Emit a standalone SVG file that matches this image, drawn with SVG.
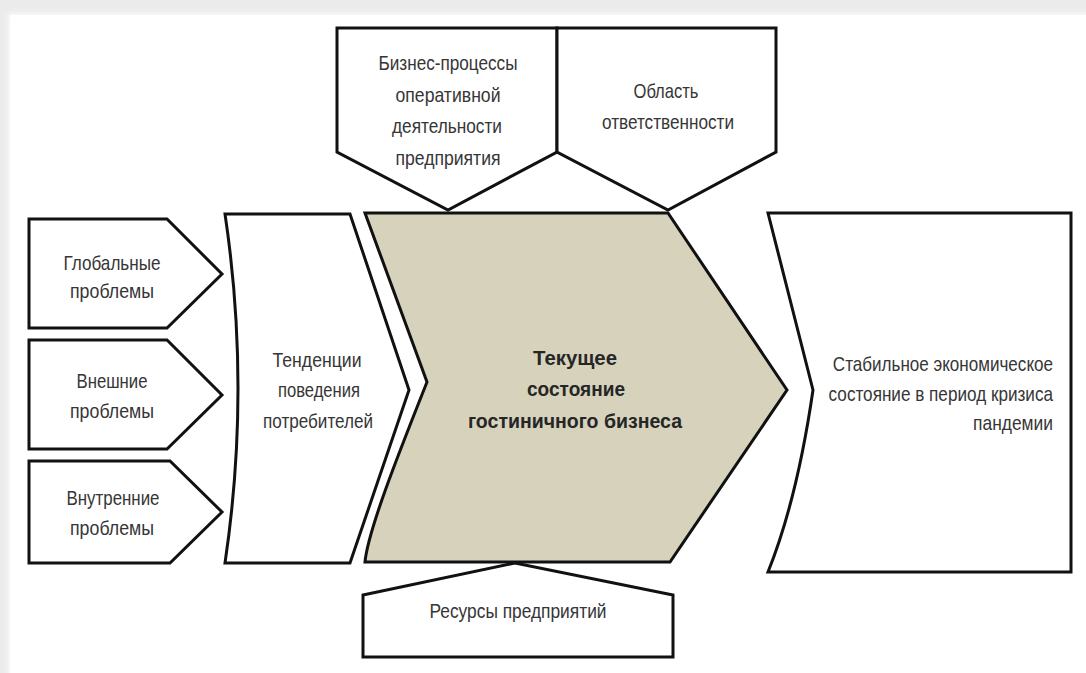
<svg xmlns="http://www.w3.org/2000/svg" width="1086" height="673" viewBox="0 0 1086 673">
  <defs>
    <style>
      .shape { fill: #ffffff; stroke: #111111; stroke-width: 3; stroke-linejoin: miter; }
      .core { fill: #d6d2bc; stroke: #111111; stroke-width: 3; stroke-linejoin: miter; }
      .lbl { font-family: "Liberation Sans", "DejaVu Sans Condensed", sans-serif; font-size: 21px; fill: #363636; text-anchor: middle; }
      .bold { font-weight: bold; fill: #262626; }
      .right { text-anchor: end; }
    </style>
    <filter id="soft" x="-5%" y="-5%" width="110%" height="110%">
      <feGaussianBlur stdDeviation="3"/>
    </filter>
  </defs>

  <!-- page backdrop with a soft edge on the top and left -->
  <rect x="0" y="0" width="1086" height="673" fill="#ebebeb"/>
  <rect x="9" y="14" width="1090" height="670" fill="#ffffff" filter="url(#soft)"/>
  <rect x="10" y="15" width="1086" height="673" fill="#ffffff"/>

  <g id="connectors"></g>

  <!-- upper inputs -->
  <g id="node-business-processes">
    <path class="shape" d="M337,28 H557 V152 L448,210 L337,152 Z"/>
    <text class="lbl" x="448" y="70" textLength="139" lengthAdjust="spacingAndGlyphs">Бизнес-процессы</text>
    <text class="lbl" x="448" y="102" textLength="105" lengthAdjust="spacingAndGlyphs">оперативной</text>
    <text class="lbl" x="447" y="133" textLength="110" lengthAdjust="spacingAndGlyphs">деятельности</text>
    <text class="lbl" x="448" y="165" textLength="105" lengthAdjust="spacingAndGlyphs">предприятия</text>
  </g>
  <g id="node-responsibility">
    <path class="shape" d="M557,28 H776 V152 L668,210 L557,152 Z"/>
    <text class="lbl" x="666" y="98" textLength="65" lengthAdjust="spacingAndGlyphs">Область</text>
    <text class="lbl" x="668" y="129" textLength="132" lengthAdjust="spacingAndGlyphs">ответственности</text>
  </g>

  <!-- problem inputs on the left -->
  <g id="node-global">
    <path class="shape" d="M29,219 H167 L222,274 L167,328 H29 Z"/>
    <text class="lbl" x="112" y="270" textLength="97" lengthAdjust="spacingAndGlyphs">Глобальные</text>
    <text class="lbl" x="112" y="298" textLength="84" lengthAdjust="spacingAndGlyphs">проблемы</text>
  </g>
  <g id="node-external">
    <path class="shape" d="M29,340 H167 L222,395 L167,449 H29 Z"/>
    <text class="lbl" x="112" y="388" textLength="71" lengthAdjust="spacingAndGlyphs">Внешние</text>
    <text class="lbl" x="112" y="418" textLength="84" lengthAdjust="spacingAndGlyphs">проблемы</text>
  </g>
  <g id="node-internal">
    <path class="shape" d="M29,461 H170 L222,512 L170,563 H29 Z"/>
    <text class="lbl" x="113" y="505" textLength="93" lengthAdjust="spacingAndGlyphs">Внутренние</text>
    <text class="lbl" x="112" y="535" textLength="84" lengthAdjust="spacingAndGlyphs">проблемы</text>
  </g>

  <!-- consumer trends -->
  <g id="node-trends">
    <path class="shape" d="M225,214 H350 L409,390 L350,563 H225 Q251,388 225,214 Z"/>
    <text class="lbl" x="317" y="367" textLength="89" lengthAdjust="spacingAndGlyphs">Тенденции</text>
    <text class="lbl" x="319" y="397" textLength="82" lengthAdjust="spacingAndGlyphs">поведения</text>
    <text class="lbl" x="318" y="428" textLength="110" lengthAdjust="spacingAndGlyphs">потребителей</text>
  </g>

  <!-- current state, central chevron -->
  <g id="node-current-state">
    <path class="core" d="M365,213 H668 L787,390 L670,562 H365 C368,530 400,450 427,382 Z"/>
    <text class="lbl bold" x="575" y="365" textLength="84" lengthAdjust="spacingAndGlyphs">Текущее</text>
    <text class="lbl bold" x="576" y="396" textLength="98" lengthAdjust="spacingAndGlyphs">состояние</text>
    <text class="lbl bold" x="575" y="428" textLength="214" lengthAdjust="spacingAndGlyphs">гостиничного бизнеса</text>
  </g>

  <!-- resources below -->
  <g id="node-resources">
    <path class="shape" d="M363,657 V595 L515,563 L673,595 V657 Z"/>
    <text class="lbl" x="518" y="618" textLength="177" lengthAdjust="spacingAndGlyphs">Ресурсы предприятий</text>
  </g>

  <!-- target state; right-aligned text block narrowed horizontally -->
  <g id="node-target-state">
    <path class="shape" d="M768,213 H1071 V572 H768 Q797,500 813,390 Z"/>
    <g transform="translate(1053,0) scale(0.85,1)">
      <text class="lbl right" x="0" y="371" textLength="259" lengthAdjust="spacingAndGlyphs">Стабильное экономическое</text>
      <text class="lbl right" x="0" y="401" textLength="264" lengthAdjust="spacingAndGlyphs">состояние в период кризиса</text>
      <text class="lbl right" x="0" y="430" textLength="94" lengthAdjust="spacingAndGlyphs">пандемии</text>
    </g>
  </g>
</svg>
